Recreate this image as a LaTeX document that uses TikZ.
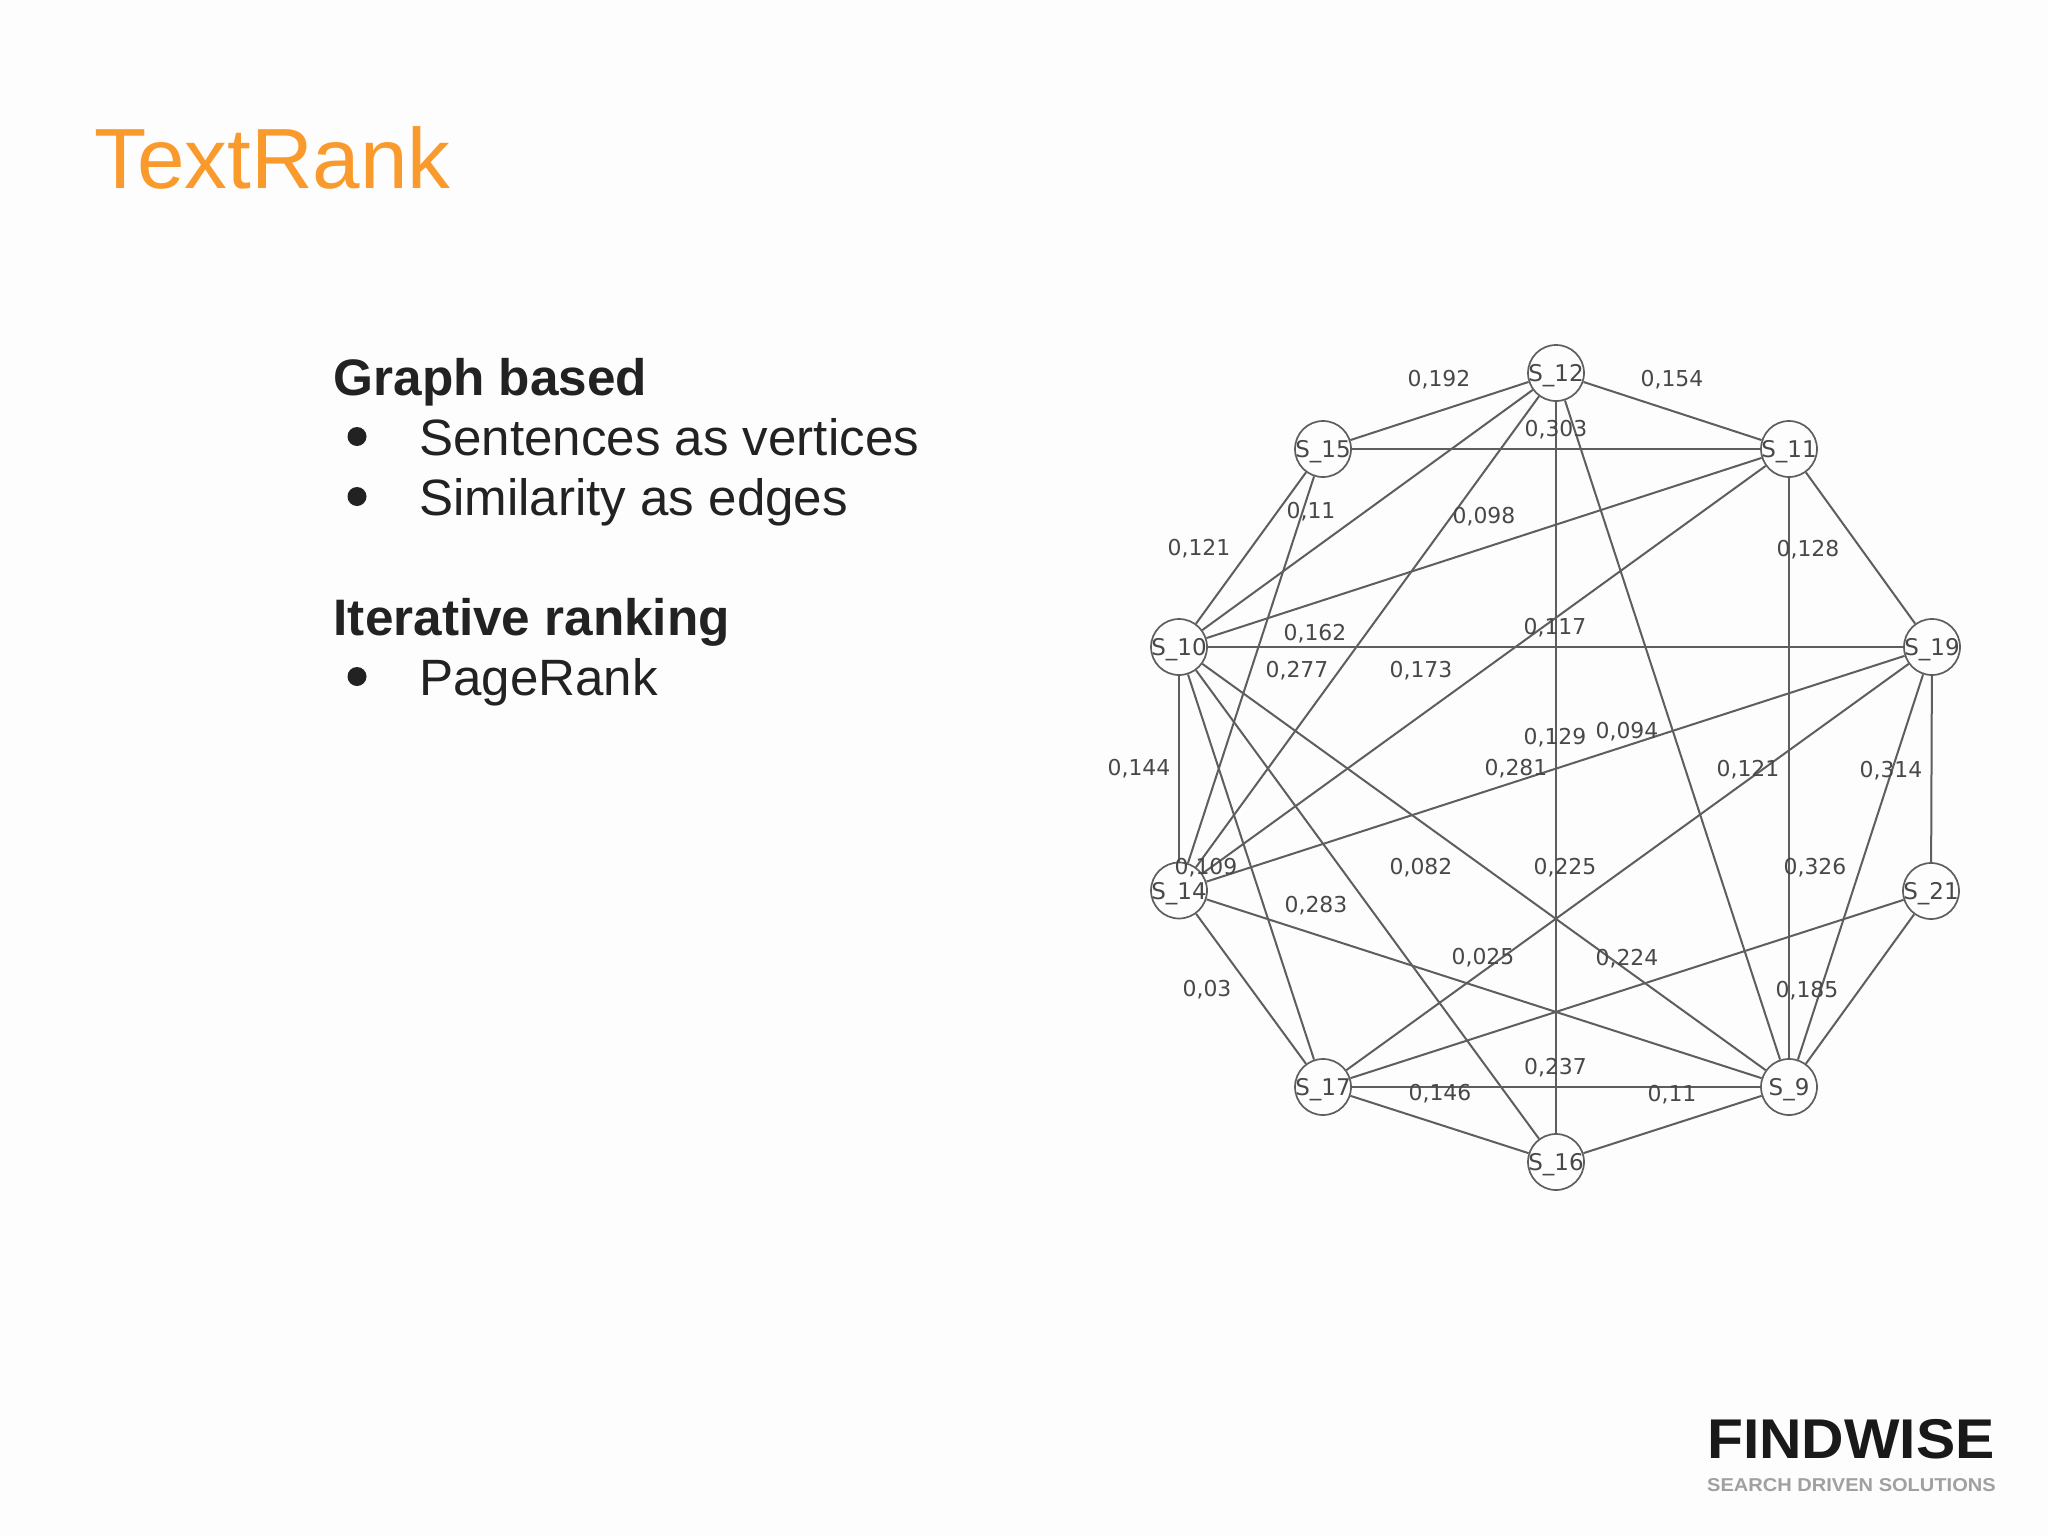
\documentclass[tikz,border=0pt]{standalone}
\usepackage{fontspec}
\setmainfont{Liberation Sans}
\newfontfamily\graphfont{DejaVu Sans}
\definecolor{titleorange}{HTML}{FA9A2C}
\definecolor{bodyink}{HTML}{222222}
\definecolor{edgegrey}{HTML}{5E5E5E}
\definecolor{labelink}{HTML}{484848}
\definecolor{tagline}{HTML}{A0A0A0}
\tikzset{
  vertex/.style={circle,draw=edgegrey,line width=1.7pt,fill=none,minimum size=56pt,inner sep=0pt,text=labelink,font=\graphfont\fontsize{23}{23}\selectfont},
  link/.style={draw=edgegrey,line width=2pt},
  weight/.style={inner sep=0pt,text=labelink,font=\graphfont\fontsize{21.9}{22}\selectfont},
  bodyline/.style={anchor=base west,inner sep=0pt,text=bodyink,font=\fontsize{51.1}{51}\selectfont},
  headline/.style={bodyline,font=\bfseries\fontsize{51.3}{51}\selectfont},
  dot/.style={circle,fill=bodyink,inner sep=0pt,minimum size=19pt}
}
\newcommand{\vlabel}[1]{\raisebox{-8.5pt}[0pt][0pt]{\makebox[0pt][c]{#1}}}
\begin{document}
\begin{tikzpicture}[x=1pt,y=-1pt]
\useasboundingbox (0,0) rectangle (2048,1536);
\fill[white!99.4!black] (0,0) rectangle (2048,1536);
\node[anchor=base west,inner sep=0pt,text=titleorange,font=\fontsize{85.5}{86}\selectfont] (title) at (94,188) {TextRank};
\node[headline] (h1) at (333.5,395.5) {Graph based};
\node[dot] (d1) at (357,436.5) {};
\node[bodyline] (b1) at (419,455.5) {Sentences as vertices};
\node[dot] (d2) at (357,496.5) {};
\node[bodyline] (b2) at (419,515.5) {Similarity as edges};
\node[headline] (h2) at (333.5,635.5) {Iterative ranking};
\node[dot] (d3) at (357,676.5) {};
\node[bodyline] (b3) at (419,695) {PageRank};
\node[vertex] (s12) at (1556,373) {\vlabel{S\_12}};
\node[vertex] (s15) at (1323,449) {\vlabel{S\_15}};
\node[vertex] (s11) at (1789,449) {\vlabel{S\_11}};
\node[vertex] (s19) at (1932,647) {\vlabel{S\_19}};
\node[vertex] (s10) at (1179,647) {\vlabel{S\_10}};
\node[vertex] (s14) at (1179,890.5) {\vlabel{S\_14}};
\node[vertex] (s21) at (1931,891) {\vlabel{S\_21}};
\node[vertex] (s17) at (1323,1087) {\vlabel{S\_17}};
\node[vertex] (s9) at (1789,1087) {\vlabel{S\_9}};
\node[vertex] (s16) at (1556,1162) {\vlabel{S\_16}};
\foreach \a/\b in {s12/s15,s12/s11,s12/s10,s12/s14,s12/s16,s12/s9,s15/s11,s15/s10,s15/s14,s11/s19,s11/s10,s11/s14,s11/s9,s19/s10,s19/s14,s19/s17,s19/s9,s19/s21,s10/s14,s10/s17,s10/s16,s10/s9,s14/s17,s14/s9,s21/s17,s21/s9,s17/s9,s17/s16,s16/s9}
  \draw[link] (\a) -- (\b);
\foreach \n/\x/\y/\t in {a/1439/380/{0,192},b/1672/380/{0,154},c/1556/429.5/{0,303},d/1311/511.5/{0,11},e/1484/516.5/{0,098},f/1199/548.5/{0,121},g/1808/549.5/{0,128},h/1315/633.5/{0,162},i/1555/627.5/{0,117},j/1297/670.5/{0,277},k/1421/670.5/{0,173},l/1555/737.5/{0,129},m/1627/731.5/{0,094},n/1516/768.5/{0,281},o/1748/769.5/{0,121},p/1891/770.5/{0,314},q/1139/769/{0,144},r/1206/867.5/{0,109},s/1421/867.5/{0,082},t/1565/867.5/{0,225},u/1815/868/{0,326},v/1316/905.5/{0,283},w/1483/957.5/{0,025},y/1627/958.5/{0,224},z/1207/989.5/{0,03},aa/1807/990.5/{0,185},ab/1555.5/1067.5/{0,237},ac/1440/1093.5/{0,146},ad/1672/1095/{0,11}}
  \node[weight] (w\n) at (\x,\y) {\t};
\node[anchor=base west,inner sep=0pt,text=black!90,font=\bfseries\fontsize{56}{56}\selectfont,xscale=1.05] (logo) at (1707,1458) {FINDWISE};
\node[anchor=base west,inner sep=0pt,text=tagline,font=\bfseries\fontsize{18.6}{19}\selectfont,xscale=1.078] (tag) at (1707,1491) {SEARCH DRIVEN SOLUTIONS};
\end{tikzpicture}
\end{document}
